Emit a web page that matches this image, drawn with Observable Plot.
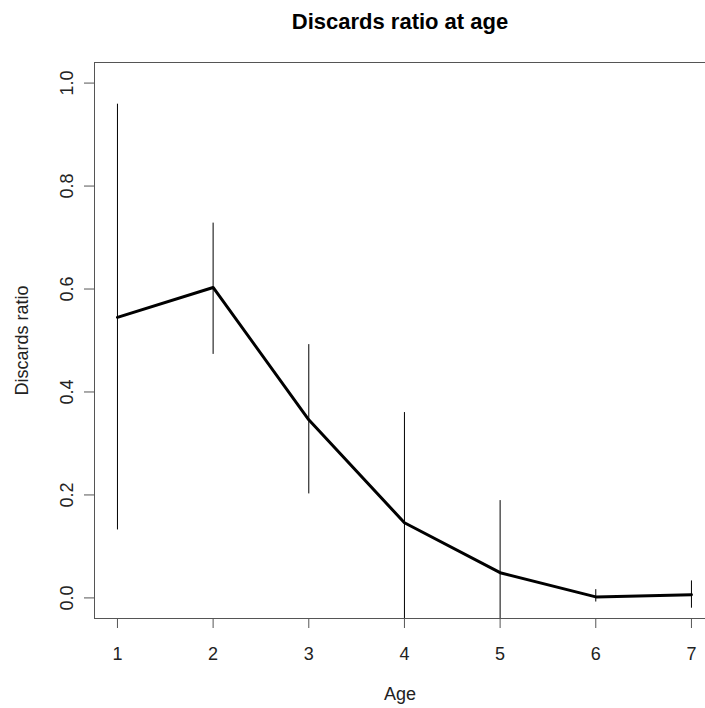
<!DOCTYPE html>
<html>
<head>
<meta charset="utf-8">
<script src="https://cdn.jsdelivr.net/npm/d3@7"></script>
<script src="https://cdn.jsdelivr.net/npm/@observablehq/plot@0.6"></script>
<style>
  html, body { margin: 0; padding: 0; background: #fff; }
  #chart svg { display: block; }
</style>
</head>
<body>
<div id="chart"></div>
<script>
const ages = [1, 2, 3, 4, 5, 6, 7];
const ratio = [0.545, 0.603, 0.346, 0.146, 0.049, 0.002, 0.006];
const upper = [0.959, 0.728, 0.492, 0.360, 0.189, 0.016, 0.033];
const lower = [0.132, 0.473, 0.202, -0.07, -0.09, -0.008, -0.020];
const xTicks = [1, 2, 3, 4, 5, 6, 7];
const yTicks = [0, 0.2, 0.4, 0.6, 0.8, 1.0];
const titleText = "Discards ratio at age";
const xLabel = "Age";
const yLabel = "Discards ratio";

const data = ages.map((a, i) => ({age: a, ratio: ratio[i], lo: lower[i], hi: upper[i]}));

const font = "'Liberation Sans', Arial, sans-serif";
const chart = Plot.plot({
  width: 705,
  height: 708,
  marginLeft: 94,
  marginRight: 0,
  marginTop: 62,
  marginBottom: 90,
  style: {fontFamily: font, fontSize: "18px", color: "#000", background: "#fff"},
  x: {domain: [0.76, 7.147]},
  y: {domain: [-0.04, 1.04]},
  marks: [
    Plot.ruleX(data, {x: "age", y1: "lo", y2: "hi", stroke: "#000", strokeWidth: 1, clip: true}),
    Plot.line(data, {x: "age", y: "ratio", stroke: "#000", strokeWidth: 3, strokeLinejoin: "round", clip: true}),
    Plot.ruleY([-0.04, 1.04], {stroke: "#555", strokeWidth: 1}),
    Plot.ruleX([0.76], {stroke: "#555", strokeWidth: 1}),
    Plot.axisX(xTicks, {tickSize: 10, tickPadding: 19, stroke: "#555", label: null, fontSize: 18, fill: "#222"}),
    Plot.axisY(yTicks, {tickSize: 10, tickPadding: 12, tickRotate: -90, tickFormat: d3.format(".1f"), stroke: "#555", label: null, fontSize: 18, fill: "#222"}),
    Plot.text([xLabel], {frameAnchor: "bottom", lineAnchor: "middle", dy: 76, fontSize: 18, fill: "#222"}),
    Plot.text([yLabel], {frameAnchor: "left", textAnchor: "middle", lineAnchor: "middle", dx: -72, rotate: -90, fontSize: 18, fill: "#222"}),
    Plot.text([titleText], {frameAnchor: "top", lineAnchor: "middle", dy: -41, fontSize: 22, fontWeight: "bold", fill: "#000"})
  ]
});
document.getElementById("chart").appendChild(chart);
</script>
</body>
</html>
